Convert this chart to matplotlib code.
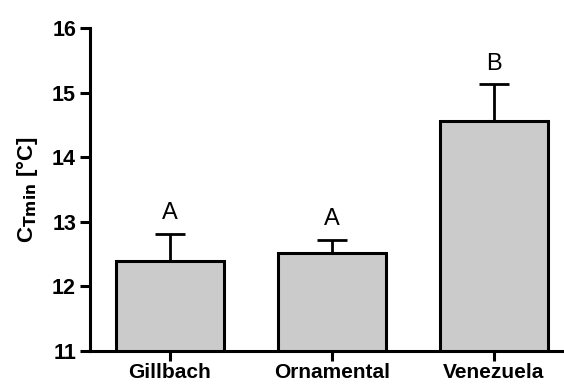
import matplotlib.pyplot as plt
import numpy as np

plt.rcParams['font.family'] = ['Liberation Sans', 'DejaVu Sans']

groups = ["Gillbach", "Ornamental", "Venezuela"]
means = [12.40, 12.51, 14.56]
upper = [12.81, 12.72, 15.13]
letters = ["A", "A", "B"]

err = np.array(upper) - np.array(means)
x = np.arange(len(groups))

fig = plt.figure(figsize=(5.64, 3.87), dpi=100)
ax = fig.add_axes([90 / 564, 36 / 387, 474 / 564, 323 / 387])

ax.bar(x, means, width=0.667, bottom=0, color="#cbcbcb", edgecolor="black",
       linewidth=2.2, zorder=2)
ax.errorbar(x, means, yerr=[np.zeros(len(err)), err], fmt="none",
            ecolor="black", elinewidth=2.0, capsize=11, capthick=2.0, zorder=1)

for xi, top, lab in zip(x, upper, letters):
    ax.text(xi, top + 0.15, lab, ha="center", va="bottom", fontsize=17)

ax.set_ylim(11, 16)
ax.set_xlim(-0.494, 2.435)
ax.set_yticks([11, 12, 13, 14, 15, 16])
ax.set_xticks(x)
ax.set_xticklabels(groups, fontsize=15, fontweight="bold")
for t in ax.get_yticklabels():
    t.set_fontsize(15.5)
    t.set_fontweight("bold")

ax.spines["top"].set_visible(False)
ax.spines["right"].set_visible(False)
ax.spines["left"].set_linewidth(2.2)
ax.spines["bottom"].set_linewidth(2.2)
ax.tick_params(axis="both", direction="out", length=7, width=2.2)
ax.tick_params(axis="y", pad=3)
ax.tick_params(axis="x", pad=2)

ax.set_ylabel(r"C$_{\mathbf{Tmin}}$ [°C]", fontsize=16, fontweight="bold",
              labelpad=9)

fig.savefig("out.png", dpi=100)
